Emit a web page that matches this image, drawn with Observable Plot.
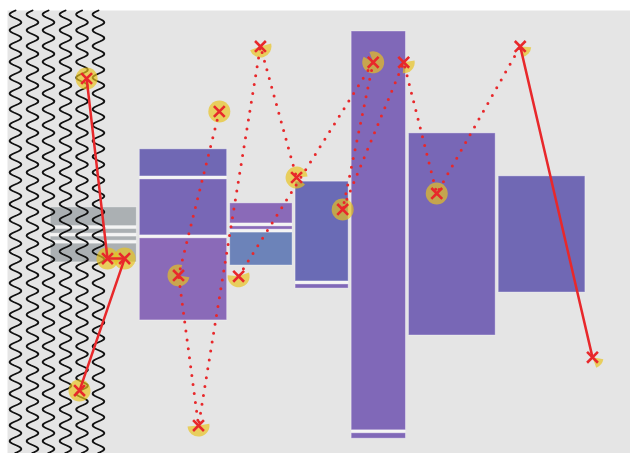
<!DOCTYPE html>
<html>
<head>
<meta charset="utf-8">
<script src="https://cdn.jsdelivr.net/npm/d3@7"></script>
<script src="https://cdn.jsdelivr.net/npm/@observablehq/plot@0.6"></script>
<style>
  html, body { margin: 0; padding: 0; background: #ffffff; }
  #chart svg { display: block; }
</style>
</head>
<body>
<div id="chart"></div>
<script>
// ---- data (abstract units, x and y in [0, 100]) ----
const colEdges = [6.7, 21.0, 35.5, 46.0, 55.0, 64.2, 78.6, 93.0];

const barColumn = [0, 0, 0, 0, 1, 1, 1, 2, 2, 2, 3, 3, 4, 4, 5, 6];
const barHigh   = [55.9, 51.0, 49.3, 47.7, 69.0, 62.2, 48.9, 56.8, 51.6, 50.2, 61.7, 38.5, 95.6, 4.9, 72.6, 62.9];
const barLow    = [51.0, 49.3, 47.7, 42.8, 62.2, 48.9, 29.7, 51.6, 50.2, 42.1, 38.5, 36.9, 4.9, 3.0, 26.3, 36.0];
const barTone   = ["slate", "slate", "slate", "slate", "iris", "violet", "orchid", "orchid", "orchid", "steel",
                   "indigo", "purple", "purple", "purple", "violet", "iris"];

const pointX = [12.7, 16.05, 18.8, 11.56, 34.0, 27.45, 30.66, 40.6, 46.4, 37.1, 58.7, 53.8, 63.6, 68.9, 82.3, 93.9];
const pointY = [84.65, 44.0, 44.0, 14.2, 77.2, 40.2, 6.3, 91.9, 62.3, 40.0, 88.3, 55.1, 88.3, 58.7, 91.9, 21.7];
// wedge extent, degrees clockwise from 12 o'clock
const arcStart = [0, 0, 0, 0, 0, 100, 80, 75, 130, 70, -20, 0, 80, 0, 95, 100];
const arcEnd   = [360, 360, 360, 360, 360, 380, 265, 250, 445, 275, 300, 360, 185, 360, 170, 160];

const solidPaths  = [[0, 1, 2, 3], [14, 15]];
const dottedPaths = [[4, 5, 6, 7, 8], [9, 10, 11, 12, 13, 14]];

const waveX = [1.28, 4.01, 6.58, 9.31, 11.96, 14.6];

// ---- styles ----
const RED = "#e8282b";
const YELLOW = "#e9c31c";

function wedge(a0deg, a1deg) {
  return {
    draw(context, size) {
      const r = Math.sqrt(size / Math.PI);
      const full = (a1deg - a0deg) >= 360;
      const a0 = (a0deg - 90) * Math.PI / 180, a1 = (a1deg - 90) * Math.PI / 180;
      if (full) {
        context.moveTo(r, 0);
        context.arc(0, 0, r, 0, 2 * Math.PI);
      } else {
        context.moveTo(0, 0);
        context.arc(0, 0, r, a0, a1);
      }
      context.closePath();
    }
  };
}

const AMP = 5.8, PERIOD = 15.8;
function waveCurve(context) {
  let pts = [];
  return {
    areaStart() {}, areaEnd() {},
    lineStart() { pts = []; },
    point(x, y) { pts.push([+x, +y]); },
    lineEnd() {
      for (let k = 0; k < pts.length - 1; ++k) {
        const [x0, y0] = pts[k], [x1, y1] = pts[k + 1];
        const dx = x1 - x0, dy = y1 - y0, L = Math.hypot(dx, dy);
        const nx = -dy / L, ny = dx / L;
        for (let s = 0; s <= L; s += 0.75) {
          const off = AMP * Math.sin(2 * Math.PI * s / PERIOD);
          const px = x0 + dx * s / L + nx * off, py = y0 + dy * s / L + ny * off;
          if (k === 0 && s === 0) context.moveTo(px, py); else context.lineTo(px, py);
        }
      }
    }
  };
}

// ---- derived tables ----
const bars = barColumn.map((c, i) => ({x1: colEdges[c], x2: colEdges[c + 1], y1: barLow[i], y2: barHigh[i], tone: barTone[i]}));
const backs = Array.from(d3.rollup(barColumn.map((c, i) => i), ix => ({
  x1: colEdges[barColumn[ix[0]]], x2: colEdges[barColumn[ix[0]] + 1],
  y1: d3.min(ix, i => barLow[i]), y2: d3.max(ix, i => barHigh[i])
}), i => barColumn[i]).values());
const pointIdx = d3.range(pointX.length);
const solidData = solidPaths.flatMap((p, k) => p.map(i => ({x: pointX[i], y: pointY[i], k})));
const dottedData = dottedPaths.flatMap((p, k) => p.map(i => ({x: pointX[i], y: pointY[i], k})));
const waveData = waveX.flatMap((x, k) => [{x, y: 100, k}, {x, y: 0, k}]);

const chart = Plot.plot({
  width: 630,
  height: 453,
  marginLeft: 7,
  marginTop: 10,
  marginRight: 0,
  marginBottom: 0,
  x: {domain: [0, 100], axis: null},
  y: {domain: [0, 100], axis: null},
  color: {
    type: "ordinal",
    domain: ["slate", "steel", "indigo", "iris", "violet", "purple", "orchid"],
    range: ["#abb0b3", "#6c83b9", "#6a6bb5", "#7068b4", "#7867b6", "#8068b8", "#8a6ab8"]
  },
  marks: [
    Plot.frame({fill: "#e5e5e5", stroke: null}),
    Plot.rect(backs, {x1: "x1", x2: "x2", y1: "y1", y2: "y2", fill: "#f4f4f4", inset: 1.5}),
    Plot.rect(bars, {x1: "x1", x2: "x2", y1: "y1", y2: "y2", fill: "tone", inset: 1.5,
      stroke: "white", strokeOpacity: 0.35, strokeWidth: 1}),
    Plot.line(waveData, {x: "x", y: "y", z: "k", curve: waveCurve, stroke: "#111", strokeWidth: 1.9}),
    ...pointIdx.map(i => Plot.dot([i], {
      x: () => pointX[i], y: () => pointY[i], r: 11,
      symbol: wedge(arcStart[i], arcEnd[i]),
      fill: YELLOW, fillOpacity: 0.68, stroke: null
    })),
    Plot.line(dottedData, {x: "x", y: "y", z: "k", stroke: RED, strokeWidth: 3,
      strokeDasharray: "0,9", strokeLinecap: "round"}),
    Plot.line(solidData, {x: "x", y: "y", z: "k", stroke: RED, strokeWidth: 2.5}),
    Plot.dot(pointIdx, {x: i => pointX[i], y: i => pointY[i], symbol: "times", r: 5,
      stroke: RED, strokeWidth: 2.6})
  ]
});
document.getElementById("chart").appendChild(chart);
</script>
</body>
</html>
